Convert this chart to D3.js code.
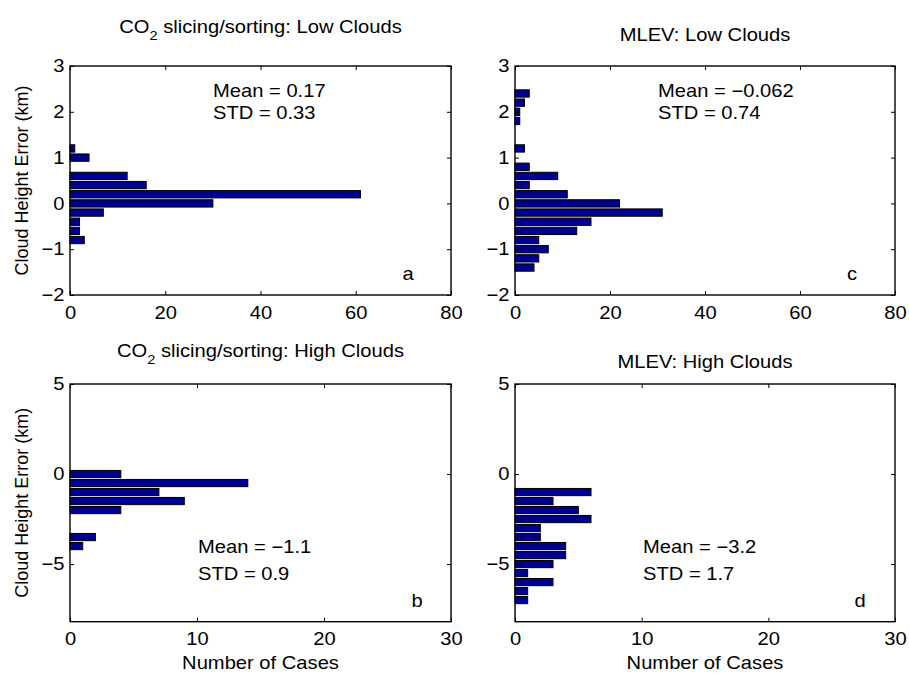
<!DOCTYPE html>
<html>
<head>
<meta charset="utf-8">
<script src="https://cdn.jsdelivr.net/npm/d3@7"></script>
<style>
  body { margin: 0; background: #fff; }
  svg { display: block; font-family: "Liberation Sans", Arial, Helvetica, sans-serif; }
  .tick line { stroke: #000; }
</style>
</head>
<body>
<div id="chart"></div>
<script>
// histogram bin centres (km) and counts
var co2LowCenters = [1.2, 1.0, 0.6, 0.4, 0.2, 0.0, -0.2, -0.4, -0.6, -0.8];
var co2LowCounts  = [1, 4, 12, 16, 61, 30, 7, 2, 2, 3];

var mlevLowCenters = [2.4, 2.2, 2.0, 1.8, 1.2, 0.8, 0.6, 0.4, 0.2, 0.0, -0.2, -0.4, -0.6, -0.8, -1.0, -1.2, -1.4];
var mlevLowCounts  = [3, 2, 1, 1, 2, 3, 9, 3, 11, 22, 31, 16, 13, 5, 7, 5, 4];

var co2HighCenters = [0.0, -0.5, -1.0, -1.5, -2.0, -3.5, -4.0];
var co2HighCounts  = [4, 14, 7, 9, 4, 2, 1];

var mlevHighCenters = [-1.0, -1.5, -2.0, -2.5, -3.0, -3.5, -4.0, -4.5, -5.0, -5.5, -6.0, -6.5, -7.0];
var mlevHighCounts  = [6, 3, 5, 6, 2, 2, 4, 4, 3, 1, 3, 1, 1];

var lowXTicks = [0, 20, 40, 60, 80];
var highXTicks = [0, 10, 20, 30];
var lowYTicks = [-2, -1, 0, 1, 2, 3];
var highYTicks = [-5, 0, 5];

var width = 909, height = 674;
var fs = 18;
var sx = 1.12; // the original figure is stretched a bit horizontally

var svg = d3.select("#chart").append("svg")
  .attr("width", width)
  .attr("height", height);

// horizontal text, stretched like the original
function label(parent, x, y, anchor, str) {
  return parent.append("text")
    .attr("transform", "translate(" + x + "," + y + ") scale(" + sx + ",1)")
    .attr("text-anchor", anchor)
    .attr("font-size", fs)
    .text(str);
}

var panels = [
  { centers: co2LowCenters, counts: co2LowCounts, bin: 0.2,
    xDomain: [0, 80], yDomain: [-2, 3], xTicks: lowXTicks, yTicks: lowYTicks,
    left: 70, right: 451, top: 66, bottom: 295,
    title: ["CO", "2", " slicing/sorting: Low Clouds"], titleY: 33,
    mean: "Mean = 0.17", std: "STD = 0.33", statX: 143, meanY: 31, stdY: 52.5,
    letter: "a", letterX: 338, letterY: 214, yLabel: true, xLabel: false },
  { centers: mlevLowCenters, counts: mlevLowCounts, bin: 0.2,
    xDomain: [0, 80], yDomain: [-2, 3], xTicks: lowXTicks, yTicks: lowYTicks,
    left: 515, right: 895, top: 66, bottom: 295,
    title: ["MLEV: Low Clouds"], titleY: 40.5,
    mean: "Mean = \u22120.062", std: "STD = 0.74", statX: 143, meanY: 31, stdY: 52.5,
    letter: "c", letterX: 337, letterY: 214, yLabel: false, xLabel: false },
  { centers: co2HighCenters, counts: co2HighCounts, bin: 0.5,
    xDomain: [0, 30], yDomain: [-8.2, 5], xTicks: highXTicks, yTicks: highYTicks,
    left: 70, right: 451, top: 384, bottom: 621.7,
    title: ["CO", "2", " slicing/sorting: High Clouds"], titleY: 356.7,
    mean: "Mean = \u22121.1", std: "STD = 0.9", statX: 128, meanY: 169.3, stdY: 196,
    letter: "b", letterX: 347, letterY: 222.7, yLabel: true, xLabel: true },
  { centers: mlevHighCenters, counts: mlevHighCounts, bin: 0.5,
    xDomain: [0, 30], yDomain: [-8.2, 5], xTicks: highXTicks, yTicks: highYTicks,
    left: 515, right: 895, top: 384, bottom: 621.7,
    title: ["MLEV: High Clouds"], titleY: 368.3,
    mean: "Mean = \u22123.2", std: "STD = 1.7", statX: 128, meanY: 169.3, stdY: 196,
    letter: "d", letterX: 345, letterY: 222.7, yLabel: false, xLabel: true }
];

panels.forEach(function(p) {
  var w = p.right - p.left, h = p.bottom - p.top;
  var x = d3.scaleLinear().domain(p.xDomain).range([0, w]);
  var y = d3.scaleLinear().domain(p.yDomain).range([h, 0]);

  var g = svg.append("g").attr("transform", "translate(" + p.left + "," + p.top + ")");

  var data = p.centers.map(function(c, i) { return { c: c, n: p.counts[i] }; });

  // bars (MATLAB barh default width 0.8)
  g.selectAll("rect.bar")
    .data(data)
    .enter().append("rect")
    .attr("class", "bar")
    .attr("x", x(0))
    .attr("y", function(d) { return y(d.c + 0.4 * p.bin); })
    .attr("width", function(d) { return x(d.n) - x(0); })
    .attr("height", function(d) { return y(d.c - 0.4 * p.bin) - y(d.c + 0.4 * p.bin); })
    .attr("fill", "#00008f")
    .attr("stroke", "#000")
    .attr("stroke-width", 1);

  // axes with inward ticks
  var fmt = d3.format("d");
  var xb = g.append("g").attr("transform", "translate(0," + h + ")")
    .call(d3.axisBottom(x).tickValues(p.xTicks).tickFormat(fmt)
      .tickSizeInner(-4).tickSizeOuter(0).tickPadding(11));
  var xt = g.append("g")
    .call(d3.axisTop(x).tickValues(p.xTicks).tickSizeInner(-4).tickSizeOuter(0).tickFormat(""));
  var yl = g.append("g")
    .call(d3.axisLeft(y).tickValues(p.yTicks).tickFormat(fmt)
      .tickSizeInner(-4).tickSizeOuter(0).tickPadding(5));
  var yr = g.append("g").attr("transform", "translate(" + w + ",0)")
    .call(d3.axisRight(y).tickValues(p.yTicks).tickSizeInner(-4).tickSizeOuter(0).tickFormat(""));

  [xb, xt, yl, yr].forEach(function(a) {
    a.select(".domain").remove();
    a.selectAll("text").attr("font-size", fs).attr("fill", "#000")
      .attr("font-family", "'Liberation Sans', Arial, sans-serif")
      .attr("transform", "scale(" + sx + ",1)");
  });

  g.append("rect")
    .attr("width", w).attr("height", h)
    .attr("fill", "none").attr("stroke", "#000").attr("stroke-width", 1.4);

  // title
  var t = label(svg, p.left + w / 2, p.titleY, "middle", null);
  if (p.title.length === 3) {
    t.append("tspan").text(p.title[0]);
    t.append("tspan").attr("font-size", 13).attr("dy", 7).text(p.title[1]);
    t.append("tspan").attr("dy", -7).text(p.title[2]);
  } else {
    t.text(p.title[0]);
  }

  // statistics + panel letter
  label(g, p.statX, p.meanY, "start", p.mean);
  label(g, p.statX, p.stdY, "start", p.std);
  label(g, p.letterX, p.letterY, "middle", p.letter);

  if (p.yLabel) {
    svg.append("text")
      .attr("transform", "translate(28," + (p.top + h / 2) + ") rotate(-90)")
      .attr("text-anchor", "middle")
      .attr("font-size", fs)
      .text("Cloud Height Error (km)");
  }
  if (p.xLabel) {
    label(svg, p.left + w / 2, 669, "middle", "Number of Cases");
  }
});
</script>
</body>
</html>
